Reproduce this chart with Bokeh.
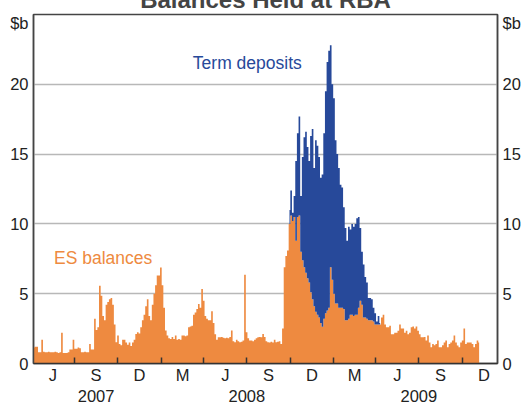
import pandas as pd
from bokeh.plotting import figure
from bokeh.models import Range1d, LinearAxis, FixedTicker, Label, Grid
from bokeh.embed import file_html
from bokeh.resources import INLINE

# ---------------- data ----------------
es_start = "2007-04-06"      # first observation
es_step = "84h"              # twice-weekly sampling
es_balances = [
    1.15, 1.2, 1.2, 0.8, 0.8, 1.7, 0.85, 0.8, 0.8, 0.85,
    0.8, 0.8, 0.8, 0.85, 0.8, 0.75, 0.8, 2.2, 0.75, 0.75,
    0.75, 0.8, 1.0, 1.0, 1.7, 1.05, 1.05, 1.15, 1.1, 0.8,
    0.8, 0.85, 0.8, 0.8, 1.4, 1.0, 1.0, 3.2, 2.4, 2.6,
    5.57, 4.86, 3.4, 3.1, 4.2, 4.4, 4.6, 4.7, 4.2, 2.8,
    1.52, 2.0, 1.4, 1.3, 1.7, 1.7, 1.5, 1.35, 1.5, 1.25,
    1.5, 1.7, 2.12, 2.24, 2.15, 2.6, 3.1, 3.5, 4.1, 4.6,
    3.4, 3.1, 4.2, 5.0, 5.6, 6.3, 6.3, 6.88, 5.6, 4.0,
    2.36, 2.0, 1.8, 1.75, 1.9, 1.75, 2.0, 1.7, 1.75, 1.7,
    2.0, 2.0, 1.95, 2.0, 2.6, 2.65, 2.7, 3.5, 3.65, 3.9,
    4.26, 4.0, 5.33, 4.5, 3.4, 3.2, 3.1, 3.1, 3.74, 2.9,
    2.1, 1.7, 1.88, 1.88, 1.9, 1.85, 1.8, 1.85, 1.8, 1.9,
    2.36, 1.6, 1.52, 1.7, 1.6, 1.52, 1.55, 1.64, 6.36, 2.24,
    1.8, 1.64, 1.65, 1.6, 1.7, 1.8, 1.88, 1.9, 1.88, 2.12,
    1.9, 1.6, 1.52, 1.5, 1.55, 1.5, 1.7, 1.52, 1.55, 1.6,
    1.4, 2.5, 6.9, 7.7, 8.1, 10.0, 10.6, 10.2, 10.5, 8.8,
    10.5, 10.6, 8.0, 7.4, 6.9, 6.5, 6.1, 5.8, 5.1, 4.6,
    4.1, 3.7, 3.5, 3.3, 2.9, 2.64, 3.2, 3.6, 3.8, 4.0,
    6.9, 6.0, 5.0, 4.3, 4.3, 4.0, 4.0, 4.0, 3.9, 3.1,
    3.1, 3.2, 3.5, 3.5, 3.4, 3.5, 3.5, 4.0, 4.5, 4.2,
    3.3, 3.3, 3.2, 3.1, 3.1, 3.1, 3.0, 2.8, 2.8, 2.8,
    2.8, 3.3, 3.5, 2.8, 2.6, 2.6, 2.7, 2.1, 2.1, 2.2,
    2.2, 2.35, 2.8, 2.5, 2.5, 2.2, 2.35, 2.1, 2.2, 2.6,
    2.65, 2.5, 2.65, 2.35, 2.1, 1.88, 1.88, 1.9, 1.64, 2.0,
    1.5, 1.17, 1.4, 1.3, 1.4, 1.64, 1.17, 1.17, 1.3, 1.5,
    1.64, 1.17, 1.4, 1.5, 1.64, 2.0, 1.5, 1.29, 1.17, 1.5,
    1.64, 2.5, 1.4, 1.5, 1.5, 1.5, 1.4, 1.17, 1.4, 1.64, 1.5,
]
td_first_index = 155         # term deposits begin at this observation
term_deposits = [
    1.0, 1.8, 0.6, 1.5, 5.7, 6.0, 7.1, 4.0, 7.4, 9.3,
    10.1, 9.4, 8.7, 11.2, 12.2, 9.9, 12.3, 12.1, 11.5, 10.4,
    10.9, 13.3, 15.9, 17.8, 18.4, 15.9, 14.0, 14.0, 11.7, 10.7,
    10.0, 8.8, 8.6, 7.3, 6.6, 5.7, 6.6, 6.1, 6.5, 6.4,
    6.5, 6.9, 6.5, 5.2, 3.8, 3.8, 2.9, 2.6, 1.6, 1.6,
    1.5, 1.0, 0.8, 0.2, 0.6, 0.1,
]
quarter_starts = ["2007-04-01", "2007-07-01", "2007-10-01", "2008-01-01",
                  "2008-04-01", "2008-07-01", "2008-10-01", "2009-01-01",
                  "2009-04-01", "2009-07-01", "2009-10-01", "2010-01-01"]
month_labels = ["J", "S", "D", "M", "J", "S", "D", "M", "J", "S", "D"]
year_labels = ["2007", "2008", "2009"]
year_label_dates = ["2007-08-16", "2008-07-01", "2009-07-01"]
y_ticks = [0, 5, 10, 15, 20]
y_unit_label = "$b"
x_start, x_end = "2007-04-05 04:00", "2009-12-15"

ORANGE = "#EE8A40"
BLUE = "#27499A"
FONT = "Liberation Sans"

ref = pd.Timestamp("2007-01-01")
def day(ts):
    return float((pd.Timestamp(ts) - ref) / pd.Timedelta(days=1))

es_dates = pd.date_range(es_start, periods=len(es_balances), freq=es_step)
es_x = [day(d) for d in es_dates]
td_x = es_x[td_first_index:td_first_index + len(term_deposits)]
td_base = es_balances[td_first_index:td_first_index + len(term_deposits)]
td_top = [b + t for b, t in zip(td_base, term_deposits)]

q_days = [day(q) for q in quarter_starts]
tick_days = q_days[1:-1]
mid_days = [(a + b) / 2 for a, b in zip(q_days[:-1], q_days[1:])]
year_days = [day(d) for d in year_label_dates]

# ---------------- figure ----------------
p = figure(frame_width=464, frame_height=349,
           x_range=Range1d(day(x_start), day(x_end)), y_range=Range1d(0, 25),
           x_axis_type=None, y_axis_type=None,
           output_backend="svg", toolbar_location=None,
           min_border_left=33, min_border_right=31,
           min_border_top=0, min_border_bottom=0,
           title="Balances Held at RBA")
p.styles = {"margin-top": "-18px", "margin-bottom": "-24px"}
p.title.text_font = FONT
p.title.text_font_size = "24px"
p.title.text_font_style = "bold"
p.title.align = "center"
p.title.offset = 4
p.title.standoff = 3
p.outline_line_color = "#444444"
p.outline_line_width = 1.5
p.background_fill_color = "white"
p.border_fill_color = "white"

grid = Grid(dimension=1, ticker=FixedTicker(ticks=y_ticks[1:]),
            grid_line_color="#B8B8B8", grid_line_width=1.3)
p.add_layout(grid)

p.varea_step(x=es_x, y1=0, y2=es_balances, step_mode="center",
             fill_color=ORANGE)
p.varea_step(x=td_x, y1=td_base, y2=td_top, step_mode="center",
             fill_color=BLUE)

# y axes
unit_pos = 24.4
y_over = {t: str(t) for t in y_ticks}
y_over[unit_pos] = y_unit_label
for side in ("left", "right"):
    ax = LinearAxis(ticker=FixedTicker(ticks=y_ticks + [unit_pos]),
                    major_label_overrides=y_over,
                    major_tick_in=0, major_tick_out=0,
                    minor_tick_line_color=None,
                    axis_line_color="#444444", axis_line_width=1.5,
                    major_label_text_font=FONT,
                    major_label_text_font_size="16.5px",
                    major_label_text_color="#222222",
                    major_label_standoff=5)
    p.add_layout(ax, side)

# x axis: quarter ticks (minor) + month letters (major)
xa = LinearAxis(ticker=FixedTicker(ticks=mid_days, minor_ticks=tick_days),
                major_label_overrides={d: m for d, m in zip(mid_days, month_labels)},
                major_tick_in=0, major_tick_out=0,
                minor_tick_in=6, minor_tick_out=0,
                minor_tick_line_color="#333333", minor_tick_line_width=1.5,
                axis_line_color="#333333", axis_line_width=1.5,
                major_label_text_font=FONT,
                major_label_text_font_size="16.5px",
                major_label_text_color="#222222",
                major_label_standoff=2)
p.add_layout(xa, "below")

ya = LinearAxis(ticker=FixedTicker(ticks=year_days),
                major_label_overrides={d: y for d, y in zip(year_days, year_labels)},
                major_tick_in=0, major_tick_out=0,
                minor_tick_line_color=None, axis_line_color=None,
                major_label_text_font=FONT,
                major_label_text_font_size="16.5px",
                major_label_text_color="#222222",
                major_label_standoff=3)
p.add_layout(ya, "below")

p.add_layout(Label(x=day("2008-07-02"), y=21.5, text="Term deposits",
                   text_align="center", text_baseline="alphabetic",
                   text_font=FONT, text_font_size="17.5px", text_color=BLUE))
p.add_layout(Label(x=day("2007-08-31"), y=7.54, text="ES balances",
                   text_align="center", text_baseline="alphabetic",
                   text_font=FONT, text_font_size="17.5px", text_color=ORANGE))

open("out.html", "w").write(file_html(p, INLINE))
